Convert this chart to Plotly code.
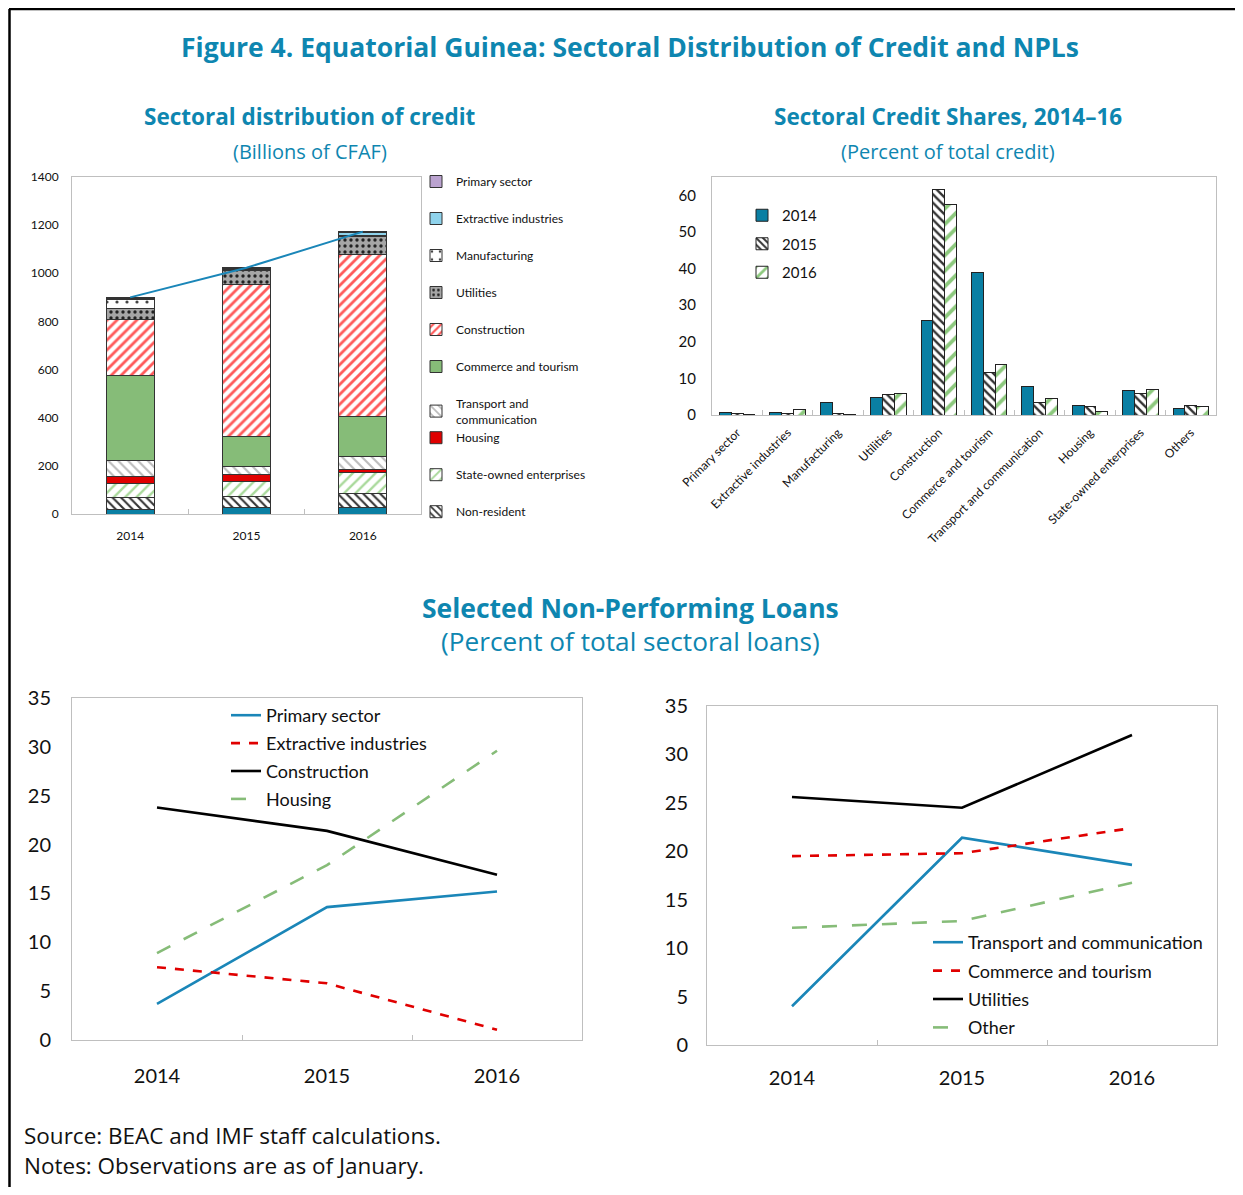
import plotly.graph_objects as go

# page body has an 8px margin; the figure is sized so that it fits the 1243x1195 window
OFF = 8
W, H = 1243 - 2 * OFF, 1195 - 2 * OFF

# ---------------- data ----------------
years = ["2014", "2015", "2016"]

# stacked credit (billions of CFAF), bottom to top
credit_others = [18, 25, 26]
credit_non_resident = [50, 49, 61]
credit_soe = [58, 59, 84]
credit_housing = [31, 31, 14]
credit_transport = [66, 34, 55]
credit_commerce = [354, 123, 164]
credit_construction = [231, 634, 674]
credit_utilities = [47, 57, 73]
credit_manufacturing = [37, 5, 4]
credit_extractive = [4, 3, 14]
credit_primary = [4, 3, 4]

share_categories = ["Primary sector", "Extractive industries", "Manufacturing", "Utilities",
                    "Construction", "Commerce and tourism", "Transport and communication",
                    "Housing", "State-owned enterprises", "Others"]
share_2014 = [0.6, 0.6, 3.5, 4.8, 25.7, 38.9, 7.9, 2.5, 6.7, 1.8]
share_2015 = [0.4, 0.4, 0.5, 5.6, 61.5, 11.6, 3.4, 2.4, 6.0, 2.5]
share_2016 = [0.2, 1.6, 0.2, 5.8, 57.5, 13.8, 4.4, 1.0, 6.9, 2.2]

npl_primary = [3.7, 13.6, 15.2]
npl_extractive = [7.45, 5.8, 1.05]
npl_construction = [23.8, 21.4, 16.9]
npl_housing = [8.9, 17.9, 29.6]

npl_transport = [4.0, 21.4, 18.6]
npl_commerce = [19.5, 19.8, 22.4]
npl_utilities = [25.6, 24.5, 32.0]
npl_other = [12.1, 12.8, 16.75]

# ---------------- helpers ----------------
def px(x):
    return (x - OFF) / W

def py(y):
    return 1 - (y - OFF) / H

TEAL = "#0E86B0"
BAR_TEAL = "#0A7FA3"
RED = "#E00000"
GREEN = "#86BC78"
CHART_FONT = "Lato"
TITLE_FONT = "Open Sans"

fig = go.Figure()

# ---------------- stacked credit chart ----------------
stack_specs = [
    ("Others", credit_others, dict(color=BAR_TEAL), False, "g0"),
    ("Non-resident", credit_non_resident,
     dict(color="white", pattern=dict(shape="\\", fgcolor="#333333", bgcolor="white", size=6, solidity=0.35)), True, "g1"),
    ("State-owned enterprises", credit_soe,
     dict(color="white", pattern=dict(shape="/", fgcolor="#A9D99B", bgcolor="white", size=8, solidity=0.3)), True, "g2"),
    ("Housing", credit_housing, dict(color=RED), True, "g3"),
    ("Transport and<br>communication", credit_transport,
     dict(color="white", pattern=dict(shape="\\", fgcolor="#BBBBBB", bgcolor="white", size=7, solidity=0.3)), True, "g3"),
    ("Commerce and tourism", credit_commerce, dict(color=GREEN), True, "g5"),
    ("Construction", credit_construction,
     dict(color="white", pattern=dict(shape="/", fgcolor="#FF5A5A", bgcolor="white", size=7, solidity=0.4)), True, "g6"),
    ("Utilities", credit_utilities,
     dict(color="#A6A6A6", pattern=dict(shape=".", fgcolor="#222222", bgcolor="#A6A6A6", size=6, solidity=0.25)), True, "g7"),
    ("Manufacturing", credit_manufacturing,
     dict(color="white", pattern=dict(shape=".", fgcolor="#444444", bgcolor="white", size=10, solidity=0.08)), True, "g8"),
    ("Extractive industries", credit_extractive, dict(color="#8FD3EC"), True, "g9"),
    ("Primary sector", credit_primary, dict(color="#BBA3D0"), True, "g10"),
]
for i, (name, vals, mk, show, grp) in enumerate(stack_specs):
    mk = dict(mk)
    mk["line"] = dict(color="#333333", width=1)
    fig.add_trace(go.Bar(
        x=years, y=vals, name=name, marker=mk, width=0.41,
        xaxis="x", yaxis="y", showlegend=show, legend="legend",
        legendgroup=grp, legendrank=100 - i,
    ))

totals = [sum(s[1][k] for s in stack_specs) for k in range(3)]
fig.add_trace(go.Scatter(x=years, y=totals, mode="lines", line=dict(color="#1A86B8", width=2),
                         xaxis="x", yaxis="y", showlegend=False, hoverinfo="skip"))

# ---------------- share bar chart ----------------
fig.add_trace(go.Bar(x=share_categories, y=share_2014, name="2014", xaxis="x2", yaxis="y2",
                     marker=dict(color=BAR_TEAL, line=dict(color="#222222", width=1)),
                     legend="legend2", legendgroup="a", offsetgroup="a"))
fig.add_trace(go.Bar(x=share_categories, y=share_2015, name="2015", xaxis="x2", yaxis="y2",
                     marker=dict(color="white", line=dict(color="#222222", width=1),
                                 pattern=dict(shape="\\", fgcolor="#333333", bgcolor="white", size=6, solidity=0.4)),
                     legend="legend2", legendgroup="b", offsetgroup="b"))
fig.add_trace(go.Bar(x=share_categories, y=share_2016, name="2016", xaxis="x2", yaxis="y2",
                     marker=dict(color="white", line=dict(color="#222222", width=1),
                                 pattern=dict(shape="/", fgcolor="#8DC97E", bgcolor="white", size=11, solidity=0.35)),
                     legend="legend2", legendgroup="c", offsetgroup="c"))

# ---------------- NPL left ----------------
lw = 2.6
left_specs = [("Primary sector", npl_primary, "#1A86B8", "solid"),
              ("Extractive industries", npl_extractive, RED, "dash"),
              ("Construction", npl_construction, "black", "solid"),
              ("Housing", npl_housing, GREEN, "longdash")]
for j, (name, vals, col, dash) in enumerate(left_specs):
    fig.add_trace(go.Scatter(x=years, y=vals, name=name, mode="lines",
                             line=dict(color=col, width=lw, dash=dash), xaxis="x3", yaxis="y3",
                             legend="legend3", legendgroup="L%d" % j))

# ---------------- NPL right ----------------
right_specs = [("Transport and communication", npl_transport, "#1A86B8", "solid"),
               ("Commerce and tourism", npl_commerce, RED, "dash"),
               ("Utilities", npl_utilities, "black", "solid"),
               ("Other", npl_other, GREEN, "longdash")]
for j, (name, vals, col, dash) in enumerate(right_specs):
    fig.add_trace(go.Scatter(x=years, y=vals, name=name, mode="lines",
                             line=dict(color=col, width=lw, dash=dash), xaxis="x4", yaxis="y4",
                             legend="legend4", legendgroup="R%d" % j))

# ---------------- axes ----------------
BOX = "#BFBFBF"

def xcat(domain, anchor, size, angle=0, standoff=0, rng=None):
    d = dict(domain=domain, anchor=anchor, type="category", showline=True, linecolor=BOX, mirror=True,
             ticks="inside", tickson="boundaries", ticklen=5, tickcolor=BOX, showgrid=False,
             tickfont=dict(family=CHART_FONT, size=size, color="#111111"), tickangle=angle,
             zeroline=False, fixedrange=True, automargin=False, ticklabelstandoff=standoff)
    if rng is not None:
        d["range"] = rng
    return d

def yval(domain, anchor, rng, dtick, size, standoff=0):
    return dict(domain=domain, anchor=anchor, range=rng, dtick=dtick, showline=True, linecolor=BOX,
                mirror=True, ticks="", showgrid=False, zeroline=False,
                tickfont=dict(family=CHART_FONT, size=size, color="#111111"), fixedrange=True,
                automargin=False, ticklabelstandoff=standoff)

layout = dict(
    template="none",
    width=W, height=H, margin=dict(l=0, r=0, t=0, b=0, pad=0), autosize=False,
    paper_bgcolor="white", plot_bgcolor="white", barmode="stack", bargap=0.3, bargroupgap=0,
    showlegend=True,
    xaxis=xcat([px(72), px(421)], "y", 12, standoff=11),
    yaxis=yval([py(514), py(177)], "x", [0, 1400], 200, 12, standoff=10),
    xaxis2=xcat([px(712), px(1216)], "y2", 12, -45, standoff=5),
    yaxis2=yval([py(415), py(177)], "x2", [0, 65], 10, 15, standoff=12),
    xaxis3=xcat([px(72), px(582)], "y3", 20, standoff=18, rng=[-0.5, 2.5]),
    yaxis3=yval([py(1040), py(698)], "x3", [0, 35], 5, 20, standoff=16),
    xaxis4=xcat([px(707), px(1217)], "y4", 20, standoff=15, rng=[-0.5, 2.5]),
    yaxis4=yval([py(1045), py(706)], "x4", [0, 35], 5, 20, standoff=14),
    legend=dict(x=px(416), y=py(167), xanchor="left", yanchor="top", traceorder="grouped",
                tracegroupgap=18, font=dict(family=CHART_FONT, size=12, color="#111111"),
                bgcolor="rgba(0,0,0,0)", itemwidth=30),
    legend2=dict(x=px(742), y=py(199), xanchor="left", yanchor="top", traceorder="grouped",
                 font=dict(family=CHART_FONT, size=15, color="#111111"), bgcolor="rgba(0,0,0,0)",
                 tracegroupgap=6, itemwidth=30),
    legend3=dict(x=px(226), y=py(697), xanchor="left", yanchor="top", traceorder="grouped",
                 tracegroupgap=1.5, font=dict(family=CHART_FONT, size=18, color="#111111"),
                 bgcolor="rgba(0,0,0,0)"),
    legend4=dict(x=px(928), y=py(924), xanchor="left", yanchor="top", traceorder="grouped",
                 tracegroupgap=2, font=dict(family=CHART_FONT, size=18, color="#111111"),
                 bgcolor="rgba(0,0,0,0)"),
)
fig.update_layout(**layout)

# ---------------- annotations ----------------
def ann(text, x, y, size, bold=False, color=TEAL, family=TITLE_FONT, xanchor="center"):
    fig.add_annotation(text=("<b>%s</b>" % text) if bold else text, x=px(x), y=py(y),
                       xref="paper", yref="paper", showarrow=False, xanchor=xanchor, yanchor="middle",
                       font=dict(family=family, size=size, color=color))

ann("Figure 4. Equatorial Guinea: Sectoral Distribution of Credit and NPLs", 630, 47, 26.5, True)
ann("Sectoral distribution of credit", 310, 116, 22.5, True)
ann("(Billions of CFAF)", 310, 152, 20)
ann("Sectoral Credit Shares, 2014–16", 948, 116, 22.5, True)
ann("(Percent of total credit)", 948, 152, 20)
ann("Selected Non-Performing Loans", 630, 608, 26.5, True)
ann("(Percent of total sectoral loans)", 630, 641, 26.2)
ann("Source: BEAC and IMF staff calculations.", 22, 1135, 22.5, color="#111111", xanchor="left")
ann("Notes: Observations are as of January.", 22, 1165, 22.5, color="#111111", xanchor="left")

# frame
fig.add_shape(type="line", xref="paper", yref="paper", x0=px(9), x1=1, y0=py(9), y1=py(9),
              line=dict(color="black", width=2.5))
fig.add_shape(type="line", xref="paper", yref="paper", x0=px(9.5), x1=px(9.5), y0=py(9), y1=0,
              line=dict(color="black", width=2.5))

fig.write_html("out.html")
